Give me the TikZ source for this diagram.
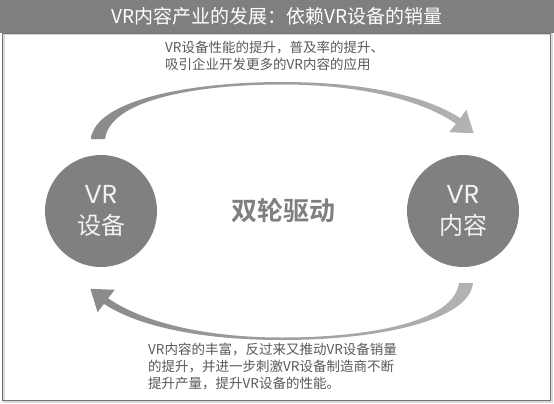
\documentclass[tikz,border=0pt]{standalone}
\usepackage{fontspec}
\setmainfont{Noto Sans CJK SC}[BoldFont={Noto Sans CJK SC Bold}]
\newfontfamily\geo{Poppins}
\usetikzlibrary{shadings}
\definecolor{hdr}{HTML}{7F7F7F}
\definecolor{circ}{HTML}{808080}
\definecolor{txt}{HTML}{595959}
\definecolor{arrdark}{HTML}{8A8A8A}
\definecolor{arrlight}{HTML}{B3B3B3}
\begin{document}
\begin{tikzpicture}[x=1pt,y=-1pt,
  bubble/.style={circle,fill=circ,minimum size=112pt,inner sep=0pt,align=center,text=white!95!black,font=\fontsize{24}{31}\selectfont},
  note/.style={anchor=north west,inner sep=0pt,align=left,text=txt,font=\fontsize{13.5}{16.8}\selectfont},
  arcshape/.style={left color=arrdark,middle color=white,right color=arrlight}]
\useasboundingbox (0,0) rectangle (554,404);
% frame
\fill[white] (0,0) rectangle (554,404);
\draw[black!15,line width=1.5pt] (3.8,34) rectangle (551.8,401.8);
\draw[hdr!90!black,line width=1.6pt] (2.5,33) rectangle (550.5,400.3);
\fill[hdr] (0,0) rectangle (554,33);
\node[text=white,font=\fontsize{19}{22}\selectfont] (title) at (277,16.5) {VR内容产业的发展：依赖VR设备的销量};
% circles
\node[bubble] (dev) at (101,211) {{\geo\fontsize{26}{31}\selectfont VR}\\设备};
\node[bubble] (con) at (463,211) {{\geo\fontsize{26}{31}\selectfont VR}\\内容};
\node[text=hdr,font=\fontsize{26}{30}\selectfont\bfseries] (mid) at (283,211) {双轮驱动};
% arcs
\coordinate (C) at (282,211);
\shade[arcshape] (91,139) .. controls (95,100) and (190,82) .. (282,82)
  .. controls (370,82) and (430,98) .. (460.1,118.2)
  -- (466.4,109.8) -- (473.6,133.2) -- (449.2,132.2) -- (455.9,123.8)
  .. controls (428,104) and (370,84.5) .. (282,84.5)
  .. controls (195,84.5) and (110,100) .. (105,139) -- cycle;
\begin{scope}[rotate around={180:(C)}]
\shade[arcshape] (91,139) .. controls (95,100) and (190,82) .. (282,82)
  .. controls (370,82) and (430,98) .. (460.1,118.2)
  -- (466.4,109.8) -- (473.6,133.2) -- (449.2,132.2) -- (455.9,123.8)
  .. controls (428,104) and (370,84.5) .. (282,84.5)
  .. controls (195,84.5) and (110,100) .. (105,139) -- cycle;
\end{scope}
% texts
\node[note] (top) at (165,41) {VR设备性能的提升，普及率的提升、\\吸引企业开发更多的VR内容的应用};
\node[note] (bot) at (148,343) {VR内容的丰富，反过来又推动VR设备销量\\的提升，并进一步刺激VR设备制造商不断\\提升产量，提升VR设备的性能。};
\end{tikzpicture}
\end{document}
